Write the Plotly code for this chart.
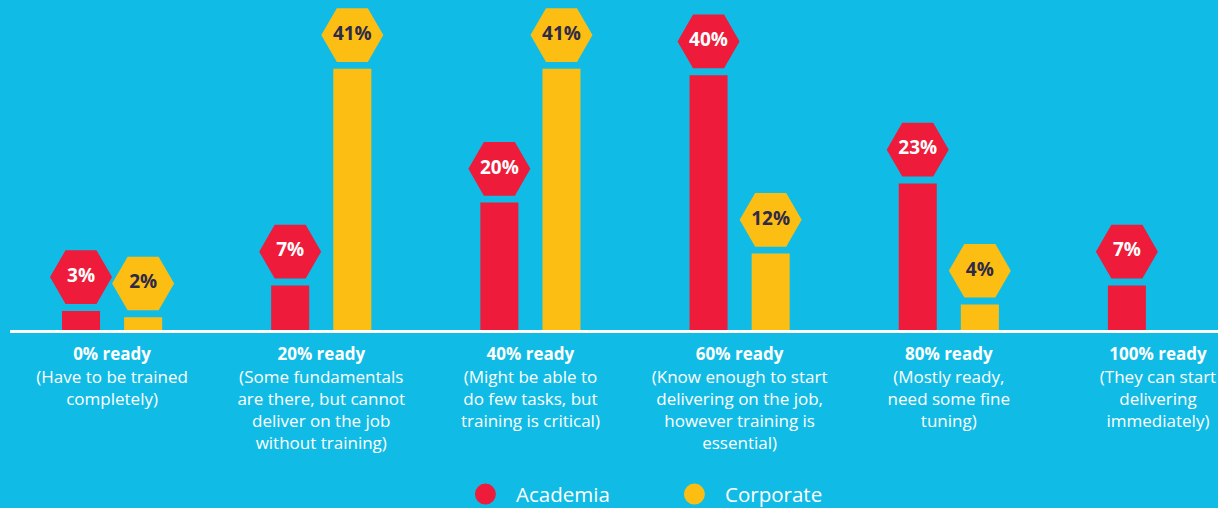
import plotly.graph_objects as go

# Readiness levels and survey shares (%)
categories = ["0%", "20%", "40%", "60%", "80%", "100%"]
tick_labels = [
    "<b>0% ready</b><br>(Have to be trained<br>completely)",
    "<b>20% ready</b><br>(Some fundamentals<br>are there, but cannot<br>deliver on the job<br>without training)",
    "<b>40% ready</b><br>(Might be able to<br>do few tasks, but<br>training is critical)",
    "<b>60% ready</b><br>(Know enough to start<br>delivering on the job,<br>however training is<br>essential)",
    "<b>80% ready</b><br>(Mostly ready,<br>need some fine<br>tuning)",
    "<b>100% ready</b><br>(They can start<br>delivering<br>immediately)",
]
academia = [3, 7, 20, 40, 23, 7]
corporate = [2, 41, 41, 12, 4, 0]

BG = "#10BCE5"
RED = "#EE1B3A"
YELLOW = "#FDBE14"
NAVY = "#2E2A48"
FONT = "Open Sans"
HEX_LIFT = 5.3  # badge centre sits this many % above the bar top

fig = go.Figure()

series = [
    ("Academia", academia, RED, "white"),
    ("Corporate", corporate, YELLOW, NAVY),
]

for name, vals, color, _ in series:
    fig.add_trace(go.Bar(
        x=categories, y=vals, name=name, marker_color=color,
        marker_line_width=0, showlegend=False, offsetgroup=name,
    ))

# hexagonal value badges above each bar
for name, vals, color, txtcolor in series:
    xs = [c for c, v in zip(categories, vals) if v > 0]
    ys = [v + HEX_LIFT for v in vals if v > 0]
    txt = [f"<b>{v}%</b>" for v in vals if v > 0]
    fig.add_trace(go.Scatter(
        x=xs, y=ys, mode="markers+text", text=txt,
        textposition="middle center",
        textfont=dict(family=FONT, size=19, color=txtcolor),
        marker=dict(symbol="hexagon2", size=62, color=color,
                    line=dict(width=0)),
        offsetgroup=name, showlegend=False, cliponaxis=False,
        hoverinfo="skip",
    ))

# legend entries drawn as round dots
for name, _, color, _ in series:
    fig.add_trace(go.Scatter(
        x=[None], y=[None], mode="markers", name="\u00a0\u00a0" + name,
        marker=dict(symbol="circle", size=16, color=color,
                    line=dict(width=5, color=color)),
    ))

fig.update_layout(
    width=1218, height=508,
    margin=dict(l=10, r=0, t=0, b=178, autoexpand=False),
    paper_bgcolor=BG, plot_bgcolor=BG,
    barmode="group", bargap=0.406, bargroupgap=0.388,
    scattermode="group", scattergap=0.406,
    font=dict(family=FONT, color="white"),
    legend=dict(
        orientation="h", x=0.377, xanchor="left",
        yref="container", y=0.027, yanchor="middle",
        font=dict(family=FONT, size=20.5, color="white"),
        entrywidth=164, bgcolor="rgba(0,0,0,0)", itemclick=False,
    ),
    xaxis=dict(
        type="category", range=[-0.488, 5.287], automargin=False,
        tickmode="array", tickvals=categories, ticktext=tick_labels,
        tickfont=dict(family=FONT, size=17, color="white"),
        showgrid=False, zeroline=False, ticks="", ticklabelstandoff=7,
        showline=True, linecolor="white", linewidth=3,
    ),
    yaxis=dict(
        range=[0, 51.8], visible=False, showgrid=False, zeroline=False,
        automargin=False,
    ),
)

fig.write_html("out.html")
